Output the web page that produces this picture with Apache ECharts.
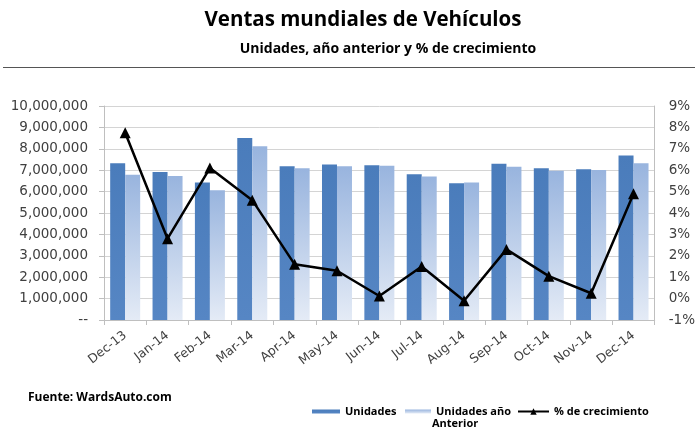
<!DOCTYPE html>
<html><head><meta charset="utf-8">
<script src="https://cdn.jsdelivr.net/npm/echarts@6/dist/echarts.min.js"></script>
<style>html,body{margin:0;padding:0;background:#fff}#c{width:698px;height:427px}</style>
</head><body><div id="c"></div>
<script>
const categories = ['Dec-13','Jan-14','Feb-14','Mar-14','Apr-14','May-14','Jun-14','Jul-14','Aug-14','Sep-14','Oct-14','Nov-14','Dec-14'];
const unidades = [7330000, 6920000, 6430000, 8510000, 7190000, 7270000, 7230000, 6810000, 6390000, 7300000, 7090000, 7040000, 7690000];
const anterior = [6790000, 6730000, 6060000, 8120000, 7090000, 7190000, 7210000, 6700000, 6430000, 7160000, 6980000, 7010000, 7330000];
const crecimiento = [7.75, 2.8, 6.1, 4.6, 1.6, 1.3, 0.12, 1.5, -0.1, 2.3, 1.05, 0.25, 4.9];
const seriesNames = ['Unidades', 'Unidades año Anterior', '% de crecimiento'];

const chart = echarts.init(document.getElementById('c'), null, {renderer: 'canvas'});
const axisFont = 'DejaVu Sans';
const legendText = {fontFamily: 'Open Sans', fontWeight: 'bold', fontSize: 11, color: '#000'};
chart.setOption({
  backgroundColor: '#fff',
  animation: false,
  title: [
    {text: 'Ventas mundiales de Vehículos', left: 358, top: 5, textAlign: 'center',
     textStyle: {fontFamily: 'Open Sans', fontWeight: 'bold', fontSize: 20.5, color: '#000'}},
    {text: 'Unidades, año anterior y % de crecimiento', left: 383, top: 37, textAlign: 'center',
     textStyle: {fontFamily: 'Open Sans', fontWeight: 'bold', fontSize: 14, color: '#000'}}
  ],
  graphic: [
    {type: 'line', shape: {x1: 3, y1: 67.5, x2: 695, y2: 67.5}, style: {stroke: '#555', lineWidth: 1}},
    {type: 'text', left: 28, top: 392, style: {text: 'Fuente: WardsAuto.com', font: 'bold 12px "Open Sans"', fill: '#000'}},
    {type: 'text', left: 432, top: 418, style: {text: 'Anterior', font: 'bold 11px "Open Sans"', fill: '#000'}}
  ],
  legend: [
    {left: 307, top: 401, itemWidth: 28, itemHeight: 4, textStyle: legendText,
     data: [{name: seriesNames[0], icon: 'rect'}]},
    {left: 400, top: 401, itemWidth: 26, itemHeight: 4, textStyle: legendText,
     formatter: () => 'Unidades año',
     data: [{name: seriesNames[1], icon: 'rect'}]},
    {left: 512, top: 401, itemWidth: 31, itemHeight: 8, textStyle: legendText,
     data: [{name: seriesNames[2]}]}
  ],
  grid: {left: 104, right: 41, top: 106, bottom: 107},
  xAxis: {
    type: 'category', data: categories,
    axisLine: {lineStyle: {color: '#bfbfbf'}},
    axisTick: {show: true, length: 5, lineStyle: {color: '#bfbfbf'}},
    axisLabel: {rotate: 38, margin: 14, color: '#404040', fontFamily: axisFont, fontSize: 12.5}
  },
  yAxis: [
    {type: 'value', min: 0, max: 10000000, interval: 1000000,
     axisLine: {show: true, lineStyle: {color: '#bfbfbf'}},
     axisTick: {show: true, length: 5, lineStyle: {color: '#bfbfbf'}},
     splitLine: {lineStyle: {color: '#d4d4d4'}},
     axisLabel: {margin: 16, color: '#404040', fontFamily: axisFont, fontSize: 13.5,
       formatter: v => v === 0 ? '--' : v.toLocaleString('en-US')}},
    {type: 'value', min: -1, max: 9, interval: 1, position: 'right',
     axisLine: {show: true, lineStyle: {color: '#bfbfbf'}},
     axisTick: {show: false},
     splitLine: {show: false},
     axisLabel: {margin: 14, color: '#404040', fontFamily: axisFont, fontSize: 13.5,
       formatter: v => v + '%'}}
  ],
  series: [
    {name: seriesNames[0], type: 'bar', data: unidades, barWidth: 15, barGap: '0%', barCategoryGap: '29%',
     itemStyle: {color: new echarts.graphic.LinearGradient(0,0,0,1,[{offset:0,color:'#4a7cbb'},{offset:1,color:'#5686c4'}])}},
    {name: seriesNames[1], type: 'bar', data: anterior, barWidth: 15, barGap: '0%',
     itemStyle: {color: new echarts.graphic.LinearGradient(0,0,0,1,[{offset:0,color:'#98b4de'},{offset:1,color:'#e4ebf6'}])}},
    {name: seriesNames[2], type: 'line', yAxisIndex: 1, data: crecimiento,
     symbol: 'triangle', symbolSize: 11,
     lineStyle: {color: '#000', width: 2.5}, itemStyle: {color: '#000'}, z: 5}
  ]
});
</script></body></html>
